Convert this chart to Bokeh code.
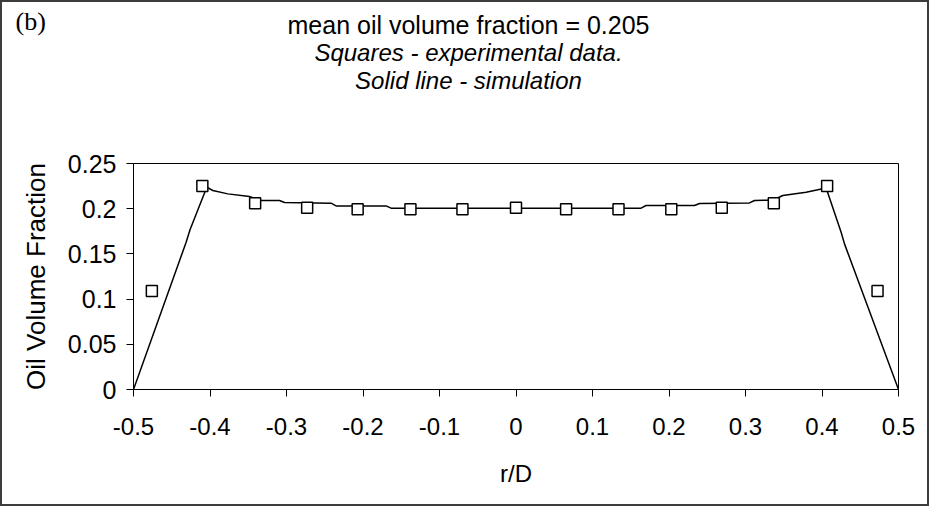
from bokeh.plotting import figure
from bokeh.models import Label, FixedTicker, Range1d
from bokeh.embed import file_html
from bokeh.resources import INLINE

# ---- data ----
sim_r = [-0.5, -0.4312, -0.426, -0.4042, -0.3963, -0.3767, -0.3484, -0.3353, -0.3092,
         -0.3026, -0.2417, -0.2352, -0.1698, -0.1633, 0.1635, 0.170, 0.2333, 0.2399,
         0.3052, 0.3118, 0.3357, 0.3488, 0.3792, 0.4054, 0.4250, 0.4294, 0.5]
sim_phi = [0.0, 0.1629, 0.177, 0.2238, 0.2201, 0.2164, 0.2135, 0.2091, 0.2091,
           0.2069, 0.2061, 0.2031, 0.2031, 0.2006, 0.2006, 0.2035, 0.2035, 0.2058,
           0.2064, 0.2091, 0.2094, 0.2146, 0.2183, 0.2230, 0.1740, 0.1611, 0.0]

exp_r = [-0.476, -0.410, -0.341, -0.273, -0.207, -0.138, -0.070, 0.0,
         0.0655, 0.134, 0.203, 0.269, 0.337, 0.4067, 0.4726]
exp_phi = [0.109, 0.225, 0.206, 0.201, 0.1995, 0.1995, 0.1995, 0.201,
           0.1995, 0.1995, 0.1995, 0.201, 0.206, 0.225, 0.109]

x_ticks = [-0.5, -0.4, -0.3, -0.2, -0.1, 0.0, 0.1, 0.2, 0.3, 0.4, 0.5]
x_tick_labels = ["-0.5", "-0.4", "-0.3", "-0.2", "-0.1", "0", "0.1", "0.2", "0.3", "0.4", "0.5"]
y_ticks = [0.0, 0.05, 0.1, 0.15, 0.2, 0.25]
y_tick_labels = ["0", "0.05", "0.1", "0.15", "0.2", "0.25"]

title_lines = ["mean oil volume fraction = 0.205",
               "Squares - experimental data.",
               "Solid line - simulation"]
panel_tag = "(b)"
x_label = "r/D"
y_label = "Oil Volume Fraction"

# ---- layout ----
W, H = 929, 506
L, R, T, B = 131, 33, 161, 119
FW, FH = W - L - R, H - T - B
X0, X1, Y0, Y1 = -0.5, 0.5, 0.0, 0.25
FONT = "Liberation Sans"

p = figure(width=W, height=H, output_backend="svg", toolbar_location=None,
           x_range=Range1d(X0, X1), y_range=Range1d(Y0, Y1),
           min_border_left=L, min_border_right=R, min_border_top=T, min_border_bottom=B,
           background_fill_color="white", border_fill_color="white")
p.styles = {"border": "2px solid #3c3c3c"}

p.xgrid.visible = False
p.ygrid.visible = False
p.outline_line_color = "black"
p.outline_line_width = 1

for ax, ticks, labels in ((p.xaxis[0], x_ticks, x_tick_labels), (p.yaxis[0], y_ticks, y_tick_labels)):
    ax.ticker = FixedTicker(ticks=ticks, minor_ticks=[])
    ax.major_label_overrides = {t: s for t, s in zip(ticks, labels)}
    ax.axis_line_color = "black"
    ax.major_tick_line_color = "black"
    ax.major_tick_in = 0
    ax.major_tick_out = 7
    ax.minor_tick_line_color = None
    ax.major_label_text_font = FONT
    ax.major_label_text_color = "black"
    ax.axis_label_text_font = FONT
    ax.axis_label_text_font_style = "normal"
    ax.axis_label_text_color = "black"

p.xaxis.axis_label = x_label
p.yaxis.axis_label = y_label
p.xaxis.major_label_text_font_size = "24px"
p.xaxis.axis_label_text_font_size = "24px"
p.yaxis.major_label_text_font_size = "25px"
p.yaxis.axis_label_text_font_size = "26px"
p.xaxis.major_label_standoff = 21
p.xaxis.axis_label_standoff = 22
p.yaxis.major_label_standoff = 10
p.yaxis.axis_label_standoff = 14

p.line(sim_r, sim_phi, line_color="black", line_width=1.5)
p.scatter(exp_r, exp_phi, marker="square", size=11, fill_color="white",
          line_color="black", line_width=1.5)


def at(cx, cy):
    """canvas pixel (from top-left) -> data position through the frame's scales"""
    return dict(x=X0 + (cx - L) / FW * (X1 - X0), y=Y0 + (H - B - cy) / FH * (Y1 - Y0))


for i, mid in enumerate((22, 50, 78)):
    p.add_layout(Label(**at(466, mid), text=title_lines[i], text_align="center",
                       text_baseline="alphabetic", text_font=FONT,
                       text_font_size="25px" if i == 0 else "24px",
                       text_font_style="normal" if i == 0 else "italic",
                       text_color="black"), "above")

p.add_layout(Label(**at(13, 19), text=panel_tag, text_align="left",
                   text_baseline="alphabetic", text_font="Liberation Serif",
                   text_font_size="26px", text_color="black"), "above")

open("out.html", "w").write(file_html(p, INLINE))
